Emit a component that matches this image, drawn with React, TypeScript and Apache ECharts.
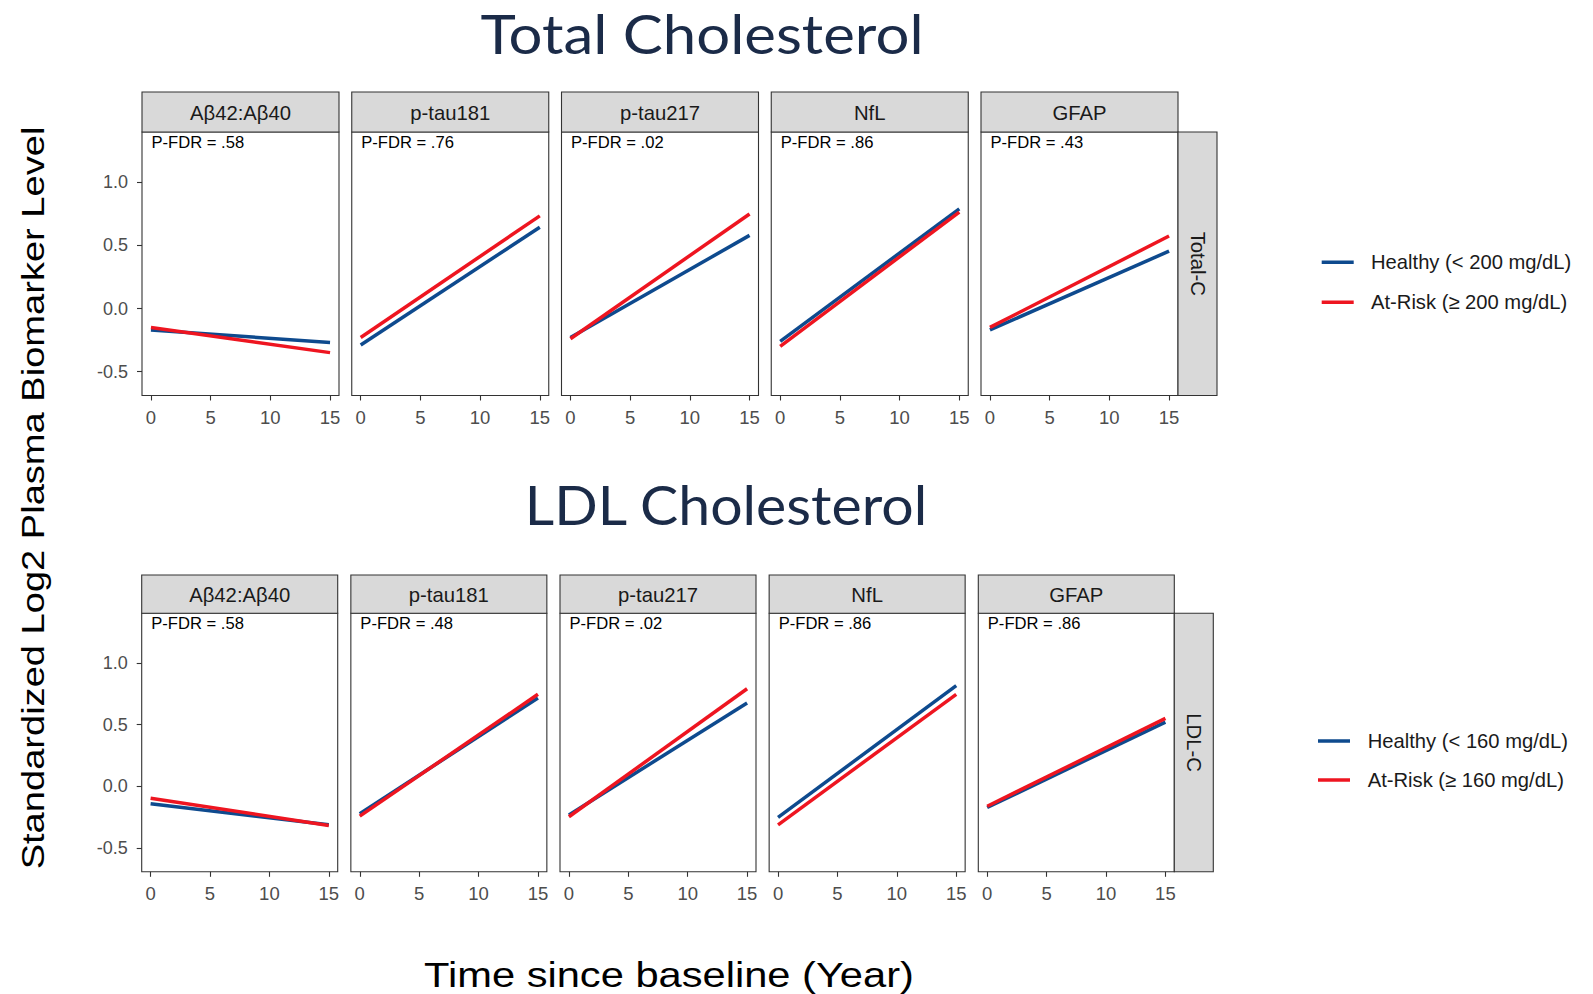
import React, { useEffect, useRef } from "react";
import * as echarts from "echarts";

// ---------- data ----------
const biomarkers = ["Aβ42:Aβ40", "p-tau181", "p-tau217", "NfL", "GFAP"];
const timePoints = [0, 15];
const xTicks = [0, 5, 10, 15];
const yTicks = [-0.5, 0, 0.5, 1.0];

const totalHealthyStart = [-0.17, -0.29, -0.23, -0.26, -0.17];
const totalHealthyEnd = [-0.27, 0.645, 0.58, 0.79, 0.455];
const totalAtRiskStart = [-0.15, -0.23, -0.24, -0.3, -0.15];
const totalAtRiskEnd = [-0.35, 0.735, 0.75, 0.765, 0.575];
const totalPfdr = [".58", ".76", ".02", ".86", ".43"];

const ldlHealthyStart = [-0.14, -0.22, -0.23, -0.25, -0.17];
const ldlHealthyEnd = [-0.31, 0.715, 0.675, 0.815, 0.52];
const ldlAtRiskStart = [-0.095, -0.24, -0.245, -0.31, -0.16];
const ldlAtRiskEnd = [-0.315, 0.745, 0.79, 0.745, 0.55];
const ldlPfdr = [".58", ".48", ".02", ".86", ".86"];

const rowTitles = ["Total Cholesterol", "LDL Cholesterol"];
const rowStrips = ["Total-C", "LDL-C"];
const healthyNames = ["Healthy (< 200 mg/dL)", "Healthy (< 160 mg/dL)"];
const atRiskNames = ["At-Risk (≥ 200 mg/dL)", "At-Risk (≥ 160 mg/dL)"];
const yAxisTitle = "Standardized Log2 Plasma Biomarker Level";
const xAxisTitle = "Time since baseline (Year)";

// ---------- style / layout ----------
const BLUE = "#0E4A8E";
const RED = "#EE1520";
const FONT = "Liberation Sans";
const rows = [
  { left0: 142, step: 209.75, width: 197, top: 132, height: 263.5, stripH: 40, titleX: 702, titleY: 31, titleScale: 1.11,
    legX: 1321.7, legY: 262.3, legTextX: 1371 },
  { left0: 141.7, step: 209.15, width: 196, top: 613.3, height: 258.5, stripH: 38.3, titleX: 726, titleY: 502, titleScale: 1.06,
    legX: 1318, legY: 741, legTextX: 1367.7 },
];

export default function App() {
  const ref = useRef<HTMLDivElement>(null);
  useEffect(() => {
    if (!ref.current) return;
    const chart = echarts.init(ref.current, null, { renderer: "svg" });
    const grids: any[] = [];
    const xAxes: any[] = [];
    const yAxes: any[] = [];
    const series: any[] = [];
    const graphics: any[] = [];
    const rowData = [
      { hs: totalHealthyStart, he: totalHealthyEnd, rs: totalAtRiskStart, re: totalAtRiskEnd, p: totalPfdr },
      { hs: ldlHealthyStart, he: ldlHealthyEnd, rs: ldlAtRiskStart, re: ldlAtRiskEnd, p: ldlPfdr },
    ];
    rows.forEach((r, ri) => {
      const d = rowData[ri];
      biomarkers.forEach((b, ci) => {
        const idx = grids.length;
        const left = r.left0 + ci * r.step;
        grids.push({
          left, top: r.top, width: r.width, height: r.height,
          show: true, borderColor: "#333333", borderWidth: 1.1, backgroundColor: "#ffffff",
        });
        xAxes.push({
          gridIndex: idx, type: "value", min: -0.75, max: 15.75, position: "bottom",
          axisLine: { show: false, onZero: false },
          splitLine: { show: false },
          axisTick: { show: true, length: 5, customValues: xTicks, lineStyle: { color: "#333333", width: 1.1 } },
          axisLabel: { show: true, customValues: xTicks, margin: 12, color: "#4D4D4D", fontSize: 18.5, fontFamily: FONT },
        });
        yAxes.push({
          gridIndex: idx, type: "value", min: -0.69, max: 1.4, position: "left",
          axisLine: { show: false, onZero: false },
          splitLine: { show: false },
          axisTick: { show: ci === 0, length: 5, customValues: yTicks, lineStyle: { color: "#333333", width: 1.1 } },
          axisLabel: {
            show: ci === 0, customValues: yTicks, margin: 14, color: "#4D4D4D", fontSize: 18, fontFamily: FONT,
            formatter: (v: number) => v.toFixed(1),
          },
        });
        series.push({
          type: "line", name: healthyNames[ri], xAxisIndex: idx, yAxisIndex: idx,
          data: [[timePoints[0], d.hs[ci]], [timePoints[1], d.he[ci]]],
          showSymbol: false, symbol: "none", lineStyle: { color: BLUE, width: 3.5 }, itemStyle: { color: BLUE },
          silent: true,
        });
        series.push({
          type: "line", name: atRiskNames[ri], xAxisIndex: idx, yAxisIndex: idx,
          data: [[timePoints[0], d.rs[ci]], [timePoints[1], d.re[ci]]],
          showSymbol: false, symbol: "none", lineStyle: { color: RED, width: 3.5 }, itemStyle: { color: RED },
          silent: true,
        });
        // strip
        graphics.push({
          type: "rect", shape: { x: left, y: r.top - r.stripH, width: r.width, height: r.stripH },
          style: { fill: "#D9D9D9", stroke: "#333333", lineWidth: 1.1 },
        });
        graphics.push({
          type: "text", x: left + r.width / 2, y: r.top - r.stripH / 2 + 1,
          style: { text: b, fill: "#1A1A1A", fontSize: 20.3, fontFamily: FONT, align: "center", verticalAlign: "middle" },
        });
        graphics.push({
          type: "text", x: left + 9.5, y: r.top + 10.5,
          style: { text: "P-FDR = " + d.p[ci], fill: "#000000", fontSize: 16.6, fontFamily: FONT, align: "left", verticalAlign: "middle" },
          z: 10,
        });
      });
      // right strip
      const rsLeft = r.left0 + 4 * r.step + r.width;
      graphics.push({
        type: "rect", shape: { x: rsLeft, y: r.top, width: 39, height: r.height },
        style: { fill: "#D9D9D9", stroke: "#333333", lineWidth: 1.1 },
      });
      graphics.push({
        type: "text", x: rsLeft + 19.5, y: r.top + r.height / 2, rotation: -Math.PI / 2,
        style: { text: rowStrips[ri], fill: "#1A1A1A", fontSize: 20.3, fontFamily: FONT, align: "center", verticalAlign: "middle" },
      });
      // row title
      graphics.push({
        type: "text", x: r.titleX, y: r.titleY + 2, scaleX: r.titleScale,
        style: { text: rowTitles[ri], fill: "#1B2B48", fontSize: 54, fontFamily: "Lato", align: "center", verticalAlign: "middle" },
      });
      // legend
      [healthyNames[ri], atRiskNames[ri]].forEach((nm, k) => {
        const y = r.legY + k * (ri === 0 ? 40 : 39);
        graphics.push({
          type: "line", shape: { x1: r.legX, y1: y, x2: r.legX + 32, y2: y },
          style: { stroke: k === 0 ? BLUE : RED, lineWidth: 3.5 },
        });
        graphics.push({
          type: "text", x: r.legTextX, y,
          style: { text: nm, fill: "#1A1A1A", fontSize: 20.2, fontFamily: FONT, align: "left", verticalAlign: "middle" },
        });
      });
    });
    // axis titles
    graphics.push({
      type: "text", x: 33, y: 498, rotation: Math.PI / 2, scaleX: 1.24,
      style: { text: yAxisTitle, fill: "#000000", fontSize: 30.7, fontFamily: FONT, align: "center", verticalAlign: "middle" },
    });
    graphics.push({
      type: "text", x: 669, y: 975, scaleX: 1.19,
      style: { text: xAxisTitle, fill: "#000000", fontSize: 35, fontFamily: FONT, align: "center", verticalAlign: "middle" },
    });

    chart.setOption({
      animation: false,
      backgroundColor: "#ffffff",
      grid: grids,
      xAxis: xAxes,
      yAxis: yAxes,
      series,
      graphic: graphics,
    });
    return () => chart.dispose();
  }, []);
  return <div ref={ref} style={{ position: "absolute", left: 0, top: 0, width: 1593, height: 994 }} />;
}
